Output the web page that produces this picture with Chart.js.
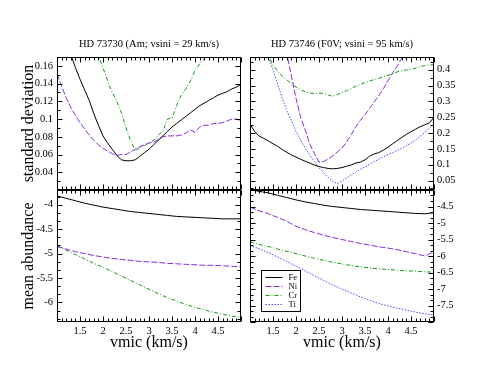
<!DOCTYPE html>
<html>
<head>
<meta charset="utf-8">
<script src="https://cdn.jsdelivr.net/npm/chart.js@4"></script>
<style>
  body { margin: 0; background: #fff; }
  #wrap { position: relative; width: 491px; height: 379px; }
  canvas { position: absolute; left: 0; top: 0; }
</style>
</head>
<body>
<div id="wrap">
  <canvas id="tl" width="491" height="379"></canvas>
  <canvas id="tr" width="491" height="379"></canvas>
  <canvas id="bl" width="491" height="379"></canvas>
  <canvas id="br" width="491" height="379"></canvas>
</div>
<script>
// vmic grids (km/s)
const vmicFine = [1.0, 1.1, 1.2, 1.3, 1.4, 1.5, 1.6, 1.7, 1.8, 1.9, 2.0, 2.1, 2.2, 2.3, 2.4, 2.5, 2.6, 2.7, 2.8, 2.9,
  3.0, 3.1, 3.2, 3.3, 3.4, 3.5, 3.6, 3.7, 3.8, 3.9, 4.0, 4.1, 4.2, 4.3, 4.4, 4.5, 4.6, 4.7, 4.8, 4.9, 5.0];
const vmicCoarse = [1.0, 1.2, 1.4, 1.6, 1.8, 2.0, 2.2, 2.4, 2.6, 2.8, 3.0, 3.2, 3.4, 3.6, 3.8, 4.0, 4.2, 4.4, 4.6, 4.8, 5.0];

// HD 73730 - standard deviation
const sdAmFe = [0.215, 0.200, 0.186, 0.173, 0.158, 0.145, 0.133, 0.121, 0.106, 0.093, 0.081, 0.073, 0.066, 0.059, 0.054,
  0.053, 0.053, 0.054, 0.058, 0.062, 0.066, 0.071, 0.076, 0.081, 0.086, 0.091, 0.095, 0.099, 0.103, 0.107, 0.111,
  0.115, 0.118, 0.121, 0.124, 0.127, 0.129, 0.131, 0.134, 0.136, 0.139];
const sdAmNi = [0.151, 0.137, 0.124, 0.113, 0.104, 0.096, 0.089, 0.082, 0.076, 0.071, 0.067, 0.064, 0.061, 0.059, 0.060,
  0.060, 0.063, 0.066, 0.069, 0.071, 0.073, 0.074, 0.077, 0.080, 0.081, 0.081, 0.081, 0.082, 0.084, 0.088, 0.085,
  0.091, 0.093, 0.093, 0.095, 0.095, 0.096, 0.098, 0.100, 0.100, 0.098];
const sdAmCr = [0.300, 0.285, 0.270, 0.255, 0.240, 0.225, 0.210, 0.196, 0.183, 0.171, 0.158, 0.143, 0.130, 0.120, 0.107,
  0.090, 0.076, 0.064, 0.068, 0.070, 0.073, 0.076, 0.082, 0.086, 0.100, 0.101, 0.115, 0.127, 0.134, 0.143, 0.155,
  0.162, 0.168, 0.180, 0.190, 0.200, 0.210, 0.220, 0.230, 0.240, 0.250];

// HD 73746 - standard deviation
const sdFvFe = [0.228, 0.205, 0.190, 0.183, 0.175, 0.166, 0.158, 0.148, 0.139, 0.131, 0.124, 0.117, 0.111, 0.105, 0.099,
  0.094, 0.091, 0.088, 0.087, 0.088, 0.091, 0.095, 0.099, 0.105, 0.108, 0.115, 0.127, 0.134, 0.138, 0.146, 0.155,
  0.166, 0.176, 0.186, 0.196, 0.204, 0.212, 0.220, 0.226, 0.232, 0.250];
const sdFvNi = [0.90, 0.83, 0.76, 0.70, 0.64, 0.58, 0.53, 0.49, 0.45, 0.38, 0.31, 0.25, 0.21, 0.165, 0.135,
  0.108, 0.110, 0.118, 0.128, 0.140, 0.152, 0.172, 0.195, 0.220, 0.240, 0.258, 0.278, 0.298, 0.318, 0.340, 0.365,
  0.390, 0.412, 0.437, 0.47, 0.50, 0.53, 0.56, 0.59, 0.62, 0.65];
const sdFvCr = [0.56, 0.53, 0.50, 0.475, 0.445, 0.415, 0.395, 0.380, 0.368, 0.355, 0.345, 0.337, 0.330, 0.326, 0.325,
  0.326, 0.325, 0.320, 0.316, 0.322, 0.328, 0.334, 0.340, 0.348, 0.354, 0.359, 0.364, 0.369, 0.373, 0.377, 0.382,
  0.387, 0.393, 0.397, 0.399, 0.401, 0.405, 0.409, 0.413, 0.415, 0.415];
const sdFvTi = [0.60, 0.56, 0.52, 0.48, 0.44, 0.40, 0.355, 0.31, 0.27, 0.24, 0.205, 0.178, 0.152, 0.130, 0.110,
  0.090, 0.075, 0.060, 0.047, 0.040, 0.048, 0.058, 0.068, 0.077, 0.085, 0.093, 0.101, 0.110, 0.117, 0.125, 0.132,
  0.138, 0.145, 0.152, 0.160, 0.168, 0.178, 0.190, 0.202, 0.215, 0.228];

// mean abundances
const abAmFe = [-3.82, -3.87, -3.92, -3.97, -4.01, -4.05, -4.08, -4.11, -4.14, -4.16, -4.18, -4.20, -4.22, -4.24, -4.25, -4.26, -4.27, -4.28, -4.29, -4.29, -4.29];
const abAmNi = [-4.85, -4.91, -4.96, -5.00, -5.04, -5.07, -5.10, -5.12, -5.14, -5.16, -5.17, -5.18, -5.20, -5.21, -5.22, -5.23, -5.24, -5.24, -5.25, -5.26, -5.27];
const abAmCr = [-4.85, -4.93, -5.02, -5.11, -5.20, -5.28, -5.37, -5.46, -5.55, -5.64, -5.73, -5.82, -5.90, -5.97, -6.04, -6.10, -6.15, -6.20, -6.24, -6.28, -6.31];
const abFvFe = [-3.99, -4.04, -4.09, -4.16, -4.23, -4.30, -4.36, -4.41, -4.46, -4.50, -4.53, -4.56, -4.59, -4.61, -4.63, -4.65, -4.67, -4.69, -4.71, -4.72, -4.69];
const abFvNi = [-4.52, -4.63, -4.72, -4.83, -4.95, -5.10, -5.20, -5.29, -5.37, -5.44, -5.50, -5.56, -5.62, -5.67, -5.72, -5.76, -5.81, -5.87, -5.93, -6.00, -5.87];
const abFvCr = [-5.57, -5.65, -5.71, -5.79, -5.86, -5.93, -6.00, -6.07, -6.13, -6.19, -6.24, -6.29, -6.33, -6.36, -6.39, -6.41, -6.43, -6.45, -6.46, -6.48, -6.49];
const abFvTi = [-5.68, -5.78, -5.90, -6.03, -6.17, -6.31, -6.45, -6.60, -6.74, -6.88, -7.00, -7.12, -7.24, -7.34, -7.44, -7.51, -7.58, -7.64, -7.70, -7.75, -7.79];

// tick labels
const vmicTicks = [1.5, 2, 2.5, 3, 3.5, 4, 4.5];
const sdAmTicks = [0.04, 0.06, 0.08, 0.1, 0.12, 0.14, 0.16];
const sdFvTicks = [0.05, 0.1, 0.15, 0.2, 0.25, 0.3, 0.35, 0.4];
const abAmTicks = [-6, -5.5, -5, -4.5, -4];
const abFvTicks = [-7.5, -7, -6.5, -6, -5.5, -5, -4.5];

const styles = {
  Fe: { color: '#000000', dash: [] },
  Ni: { color: '#8a2be2', dash: [6, 2] },
  Cr: { color: '#109a10', dash: [4, 2, 1, 2] },
  Ti: { color: '#4a4aff', dash: [1.5, 1.5] }
};

Chart.defaults.font.family = '"Liberation Serif", "Times New Roman", serif';
Chart.defaults.color = '#000';

const fmt = v => String(Math.round(v * 1000) / 1000);

function eachTick(min, max, minor, major, fn) {
  const n0 = Math.ceil(min / minor - 1e-6), n1 = Math.floor(max / minor + 1e-6);
  for (let n = n0; n <= n1; n++) {
    const v = n * minor;
    const r = v / major;
    fn(v, Math.abs(r - Math.round(r)) < 1e-6);
  }
}

// frame with inward major/minor ticks on all four sides
const framePlugin = {
  id: 'frame',
  afterDatasetsDraw(chart, args, o) {
    const { ctx, chartArea: a } = chart;
    const xs = chart.scales.x, ys = chart.scales.y;
    const L = Math.round(a.left) + 0.5, R = Math.round(a.right) - 0.5;
    const T = Math.round(a.top) + 0.5, B = Math.round(a.bottom) - 0.5;
    ctx.save();
    ctx.strokeStyle = '#000';
    ctx.lineWidth = 1;
    ctx.strokeRect(L, T, R - L, B - T);
    ctx.beginPath();
    eachTick(xs.min, xs.max, o.xMinor, o.xMajor, (v, major) => {
      const px = Math.round(xs.getPixelForValue(v)) + 0.5;
      const len = major ? 5 : 3;
      ctx.moveTo(px, T); ctx.lineTo(px, T + len);
      ctx.moveTo(px, B); ctx.lineTo(px, B - len);
    });
    eachTick(ys.min, ys.max, o.yMinor, o.yMajor, (v, major) => {
      const py = Math.round(ys.getPixelForValue(v)) + 0.5;
      const len = major ? 5 : 3;
      ctx.moveTo(L, py); ctx.lineTo(L + len, py);
      ctx.moveTo(R, py); ctx.lineTo(R - len, py);
    });
    ctx.stroke();
    ctx.restore();
  }
};

// boxed legend inside the lower-right panel
const boxLegendPlugin = {
  id: 'boxLegend',
  afterDatasetsDraw(chart, args, o) {
    if (!o.show) return;
    const { ctx, chartArea: a } = chart;
    const x0 = Math.round(a.left) + 11.5, y0 = Math.round(a.bottom) - 51.5;
    ctx.save();
    ctx.fillStyle = '#fff';
    ctx.fillRect(x0, y0, 39, 41);
    ctx.strokeStyle = '#000';
    ctx.lineWidth = 1;
    ctx.strokeRect(x0, y0, 39, 41);
    ctx.font = '8.5px "Liberation Serif"';
    ctx.textBaseline = 'middle';
    chart.data.datasets.forEach((ds, i) => {
      const y = Math.round(y0 + 6.5 + i * 9.1) + 0.5;
      ctx.beginPath();
      ctx.setLineDash(ds.borderDash || []);
      ctx.strokeStyle = ds.borderColor;
      ctx.lineWidth = ds.borderWidth;
      ctx.moveTo(x0 + 4, y);
      ctx.lineTo(x0 + 21, y);
      ctx.stroke();
      ctx.setLineDash([]);
      ctx.fillStyle = '#000';
      ctx.fillText(ds.label, x0 + 27, y);
    });
    ctx.restore();
  }
};

Chart.register(framePlugin, boxLegendPlugin);

function makeDatasets(xs, series) {
  return series.map(([label, ys]) => ({
    label,
    data: xs.map((x, i) => ({ x, y: ys[i] })),
    borderColor: styles[label].color,
    borderDash: styles[label].dash,
    borderWidth: 1,
    pointRadius: 0,
    fill: false,
    tension: 0,
    clip: 0
  }));
}

function panel(id, cfg) {
  const left = cfg.side === 'left';
  new Chart(document.getElementById(id), {
    type: 'line',
    data: { datasets: makeDatasets(cfg.xs, cfg.series) },
    options: {
      responsive: false,
      animation: false,
      events: [],
      devicePixelRatio: 1,
      layout: { padding: cfg.padding },
      scales: {
        x: {
          type: 'linear',
          min: 1, max: 5,
          display: cfg.bottom,
          grid: { display: false, drawTicks: false },
          border: { display: false },
          ticks: { font: { size: 10.5 }, padding: 3, autoSkip: false, maxRotation: 0, callback: fmt },
          afterBuildTicks: s => { s.ticks = vmicTicks.map(v => ({ value: v })); },
          afterFit: s => { s.height = cfg.bottom ? 57 : 0; },
          title: { display: true, text: 'vmic (km/s)', font: { size: 16 }, padding: { top: 0, bottom: 26.4 } }
        },
        y: {
          type: 'linear',
          position: cfg.side,
          min: cfg.yMin, max: cfg.yMax,
          grid: { display: false, drawTicks: false },
          border: { display: false },
          ticks: { font: { size: 10.5 }, padding: left ? 4 : 3, autoSkip: false, callback: fmt },
          afterBuildTicks: s => { s.ticks = cfg.yTicks.map(v => ({ value: v })); },
          afterFit: s => { s.width = 57; },
          title: { display: left, text: cfg.yTitle, font: { size: 16 }, padding: { top: 19.4, bottom: 0 } }
        }
      },
      plugins: {
        legend: { display: false },
        tooltip: { enabled: false },
        title: {
          display: !!cfg.title,
          text: cfg.title,
          fullSize: false,
          font: { size: 10.5, weight: 'normal' },
          padding: { top: 37.7, bottom: 6.7 }
        },
        frame: { xMajor: 0.5, xMinor: 0.1, yMajor: cfg.yMajor, yMinor: cfg.yMinor },
        boxLegend: { show: !!cfg.legend }
      }
    }
  });
}

panel('tl', {
  side: 'left', bottom: false, xs: vmicFine,
  series: [['Fe', sdAmFe], ['Ni', sdAmNi], ['Cr', sdAmCr]],
  yMin: 0.02, yMax: 0.17, yTicks: sdAmTicks, yMajor: 0.02, yMinor: 0.01,
  yTitle: 'standard deviation', title: 'HD 73730 (Am; vsini = 29 km/s)',
  padding: { left: 0, top: 0, right: 250, bottom: 189 }
});
panel('tr', {
  side: 'right', bottom: false, xs: vmicFine,
  series: [['Fe', sdFvFe], ['Ni', sdFvNi], ['Cr', sdFvCr], ['Ti', sdFvTi]],
  yMin: 0.02, yMax: 0.44, yTicks: sdFvTicks, yMajor: 0.05, yMinor: 0.025,
  title: 'HD 73746 (F0V; vsini = 95 km/s)',
  padding: { left: 250, top: 0, right: 0, bottom: 189 }
});
panel('bl', {
  side: 'left', bottom: true, xs: vmicCoarse,
  series: [['Fe', abAmFe], ['Ni', abAmNi], ['Cr', abAmCr]],
  yMin: -6.4, yMax: -3.7, yTicks: abAmTicks, yMajor: 0.5, yMinor: 0.5 / 3,
  yTitle: 'mean abundance',
  padding: { left: 0, top: 190, right: 250, bottom: 0 }
});
panel('br', {
  side: 'right', bottom: true, xs: vmicCoarse, legend: true,
  series: [['Fe', abFvFe], ['Ni', abFvNi], ['Cr', abFvCr], ['Ti', abFvTi]],
  yMin: -8, yMax: -4, yTicks: abFvTicks, yMajor: 0.5, yMinor: 0.5 / 3,
  padding: { left: 250, top: 190, right: 0, bottom: 0 }
});
</script>
</body>
</html>
